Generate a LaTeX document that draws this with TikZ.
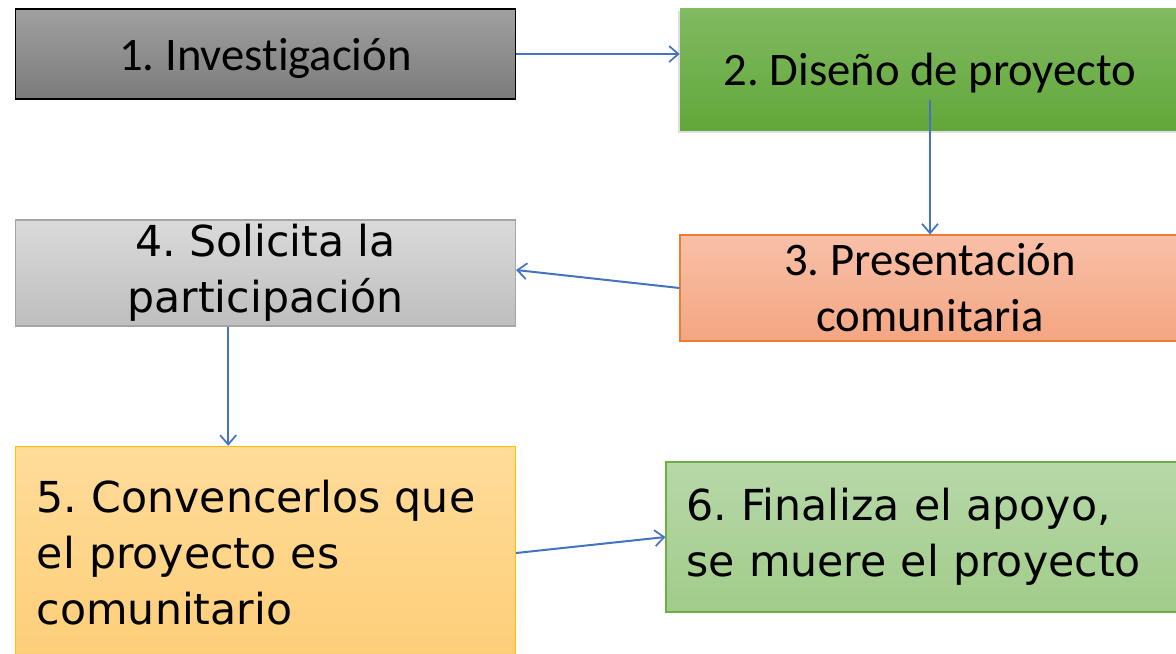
\documentclass[tikz,border=0pt]{standalone}
\usepackage{fontspec}
\setmainfont{Carlito}[Ligatures={NoCommon,NoContextual}]
\newfontfamily\comicfont{DejaVu Sans}
\usetikzlibrary{arrows.meta,shadows}
\frenchspacing

\definecolor{flowblue}{HTML}{4472C4}

\tikzset{
  pasoBox/.style={rectangle,minimum width=375pt,inner sep=0pt,align=center,
    font=\fontsize{35pt}{42pt}\selectfont},
  comicBox/.style={pasoBox,font=\comicfont\fontsize{32pt}{42pt}\selectfont},
  flecha/.style={draw=flowblue,line width=1.5pt,-{Straight Barb[length=7pt,width=12pt,line width=1.3pt]}},
}

\begin{document}
\begin{tikzpicture}[x=0.75pt,y=0.75pt,yscale=-1,xscale=1]
\clip (0,0) rectangle (1176,653);

%Shape: Rectangle [id:paso1]
\node (b1) [pasoBox,minimum height=67.5pt,text height=24.5pt,text depth=0pt,draw=black,line width=0.8pt,top color={rgb,255:red,160;green,160;blue,160},bottom color={rgb,255:red,123;green,123;blue,123}] at (265.5,54) {1. Investigación};
%Shape: Rectangle [id:paso2]
\node (b2) [pasoBox,minimum height=91.5pt,text height=24.5pt,text depth=0pt,top color={rgb,255:red,129;green,186;blue,98},bottom color={rgb,255:red,98;green,167;blue,58},drop shadow={shadow xshift=-1.5pt,shadow yshift=-2.5pt,opacity=0.25}] at (930,69) {2. Diseño de proyecto};
%Shape: Rectangle [id:paso3]
\node (b3) [pasoBox,minimum height=79.5pt,draw={rgb,255:red,237;green,125;blue,49},line width=0.8pt,top color={rgb,255:red,248;green,192;blue,168},bottom color={rgb,255:red,244;green,166;blue,130}] at (930,288) {3. Presentación\\comunitaria};
%Shape: Rectangle [id:paso4]
\node (b4) [comicBox,minimum height=79.5pt,draw={rgb,255:red,165;green,165;blue,165},line width=0.8pt,top color={rgb,255:red,218;green,218;blue,218},bottom color={rgb,255:red,190;green,190;blue,190}] at (265.5,273) {4. Solicita la\\participación};
%Shape: Rectangle [id:paso5]
\node (b5) [comicBox,minimum height=160pt,text width=343pt,inner xsep=16pt,align=left,draw={rgb,255:red,255;green,192;blue,0},line width=0.8pt,top color={rgb,255:red,255;green,220;blue,154},bottom color={rgb,255:red,253;green,206;blue,120}] at (265.5,553) {5. Convencerlos que\\el proyecto es\\comunitario};
%Shape: Rectangle [id:paso6]
\node (b6) [comicBox,minimum width=385.5pt,minimum height=112.5pt,text width=355pt,inner xsep=15pt,align=left,draw={rgb,255:red,112;green,173;blue,71},line width=0.8pt,top color={rgb,255:red,183;green,216;blue,168},bottom color={rgb,255:red,161;green,204;blue,138}] at (923,537) {6. Finaliza el apoyo,\\se muere el proyecto};

%Straight Lines [id:flechas]
\draw [flecha] (b1.east) -- (b1.east -| b2.west);
\draw [flecha] ([yshift=-22.5pt]b2.south) -- (b3.north);
\draw [flecha] (b3.west) -- ([yshift=-2.25pt]b4.east);
\draw [flecha] ([xshift=-28pt]b4.south) -- ([xshift=-28pt]b5.north);
\draw [flecha] (b5.east) -- (b6.west);

\end{tikzpicture}
\end{document}
